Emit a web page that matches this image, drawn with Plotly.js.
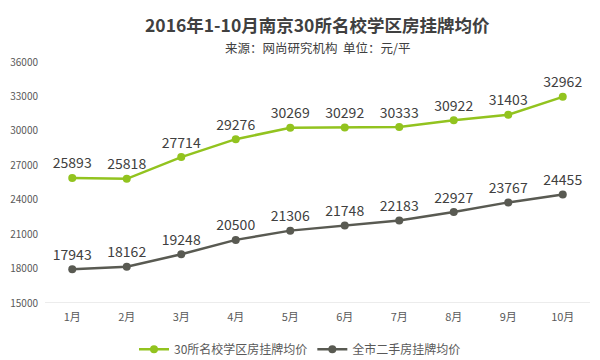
<!DOCTYPE html>
<html><head><meta charset="utf-8">
<script src="https://cdn.plot.ly/plotly-3.0.1.min.js"></script>
<style>html,body{margin:0;padding:0;background:#fff}#c{width:600px;height:360px}</style>
</head><body><div id="c"></div>
<script>
const months = ['1月','2月','3月','4月','5月','6月','7月','8月','9月','10月'];
const schoolPrice = [25893,25818,27714,29276,30269,30292,30333,30922,31403,32962];
const cityPrice = [17943,18162,19248,20500,21306,21748,22183,22927,23767,24455];
const yTicks = [15000,18000,21000,24000,27000,30000,33000,36000];
const font = '"Microsoft YaHei","Noto Sans CJK SC","Noto Sans",sans-serif';
const traces = [
 {x:months,y:schoolPrice,name:'30所名校学区房挂牌均价',mode:'lines+markers+text',
  text:schoolPrice.map(String),textposition:'top center',
  textfont:{size:14,color:'#404040',family:font},
  line:{color:'#92c31f',width:2.5},marker:{color:'#92c31f',size:8}},
 {x:months,y:cityPrice,name:'全市二手房挂牌均价',mode:'lines+markers+text',
  text:cityPrice.map(String),textposition:'top center',
  textfont:{size:14,color:'#404040',family:font},
  line:{color:'#595a52',width:2.5},marker:{color:'#595a52',size:8}}
];
const layout = {
 width:600,height:360,margin:{l:45,r:10,t:62,b:57},
 paper_bgcolor:'#fff',plot_bgcolor:'#fff',
 font:{family:font,color:'#595959'},
 showlegend:true,
 legend:{orientation:'h',x:0.5,xanchor:'center',xref:'container',yref:'container',y:0.03,yanchor:'middle',font:{size:12,color:'#595959'}},
 xaxis:{type:'category',range:[-0.5,9.5],showgrid:false,zeroline:false,showline:false,ticks:'',
   tickfont:{size:11,color:'#595959'},ticklabelstandoff:6},
 yaxis:{range:[15000,36000],tickvals:yTicks,ticktext:yTicks.map(String),showgrid:false,zeroline:false,
   showline:false,ticks:'',tickfont:{size:10,color:'#595959'},ticklabelstandoff:6},
 shapes:[{type:'line',xref:'paper',yref:'y',x0:0,x1:1,y0:15000,y1:15000,line:{color:'#d9d9d9',width:1}}],
 annotations:[
  {text:'<b>2016年1-10月南京30所名校学区房挂牌均价</b>',xref:'paper',yref:'paper',x:0.5,y:1,yshift:38,showarrow:false,
   font:{size:17.5,color:'#404040',family:font},xanchor:'center',yanchor:'middle'},
  {text:'来源：网尚研究机构  单位：元/平',xref:'paper',yref:'paper',x:0.5,y:1,yshift:15,showarrow:false,
   font:{size:12.5,color:'#404040',family:font},xanchor:'center',yanchor:'middle'}
 ]
};
Plotly.newPlot('c',traces,layout,{displayModeBar:false,staticPlot:true});
</script></body></html>
